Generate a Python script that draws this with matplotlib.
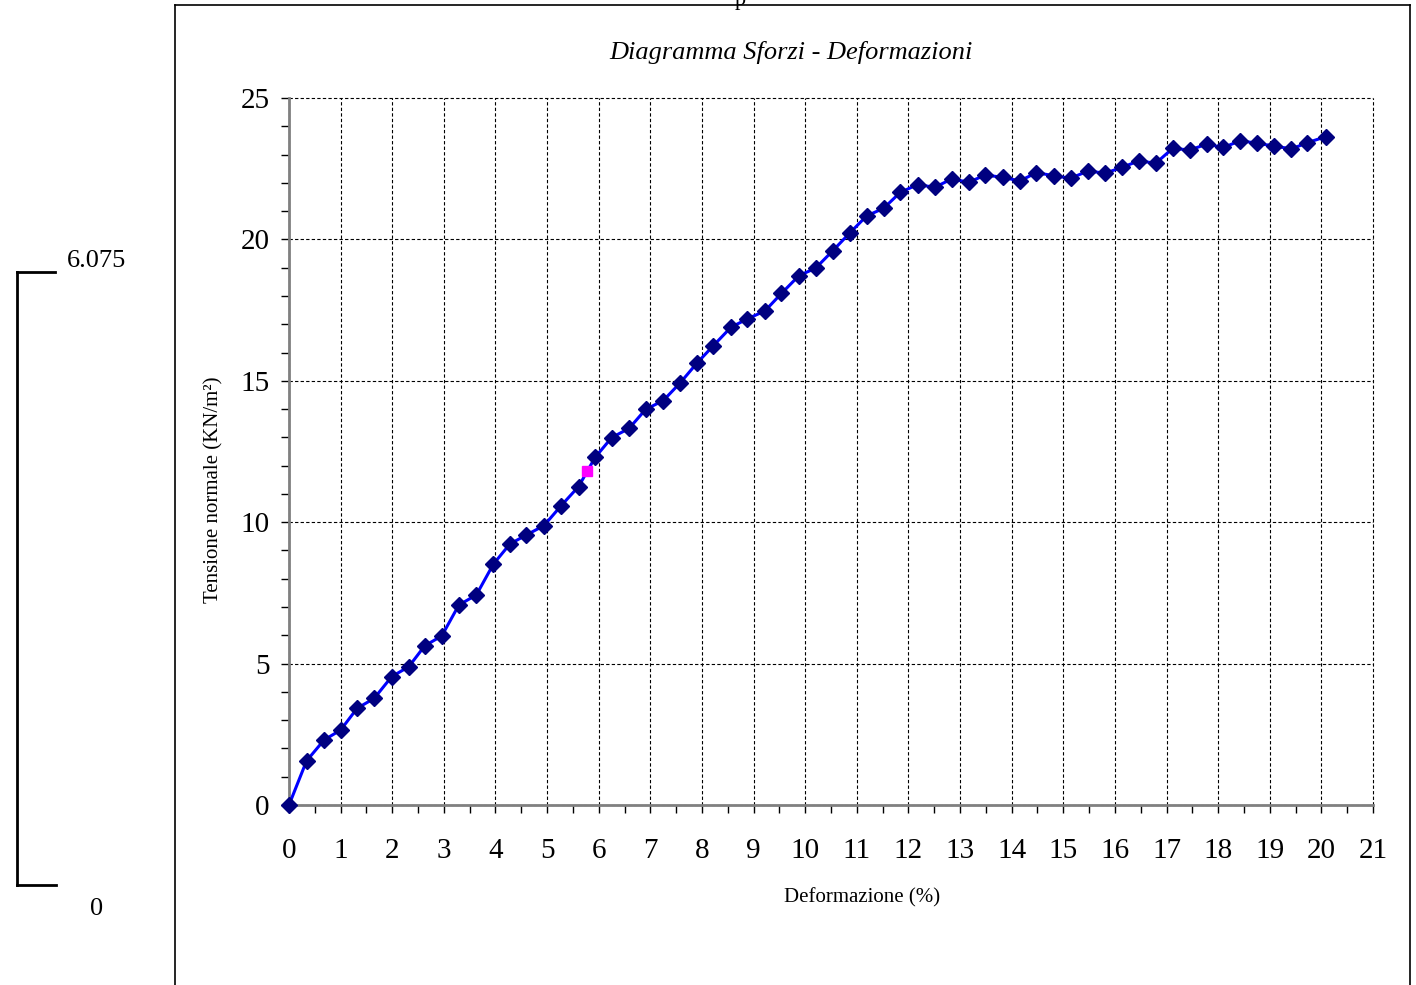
import matplotlib
matplotlib.use("Agg")
import matplotlib.pyplot as plt
from matplotlib.lines import Line2D
from matplotlib.ticker import MultipleLocator

# strain (%) and normal stress (KN/m2)
deformazione = [0.00, 0.34, 0.68, 1.00, 1.32, 1.65, 1.99, 2.32, 2.63, 2.96,
                3.29, 3.63, 3.96, 4.28, 4.60, 4.94, 5.27, 5.61, 5.93, 6.25,
                6.59, 6.91, 7.25, 7.58, 7.90, 8.22, 8.56, 8.88, 9.22, 9.54,
                9.88, 10.20, 10.53, 10.86, 11.19, 11.52, 11.84, 12.18, 12.51, 12.84,
                13.17, 13.49, 13.83, 14.16, 14.48, 14.82, 15.14, 15.48, 15.81, 16.14,
                16.47, 16.79, 17.12, 17.45, 17.78, 18.10, 18.43, 18.75, 19.09, 19.42,
                19.73, 20.08]
tensione = [0.00, 1.56, 2.30, 2.65, 3.42, 3.77, 4.54, 4.89, 5.63, 5.98,
            7.07, 7.43, 8.52, 9.23, 9.55, 9.88, 10.58, 11.26, 12.29, 12.99,
            13.32, 13.99, 14.30, 14.93, 15.62, 16.24, 16.89, 17.19, 17.47, 18.09,
            18.72, 18.98, 19.59, 20.22, 20.83, 21.10, 21.66, 21.94, 21.84, 22.14,
            22.02, 22.28, 22.19, 22.07, 22.36, 22.25, 22.16, 22.42, 22.34, 22.55,
            22.78, 22.69, 23.22, 23.16, 23.37, 23.25, 23.49, 23.40, 23.30, 23.20,
            23.42, 23.63]

# highlighted point (magenta square)
picco_x = [5.77]
picco_y = [11.82]

x_ticks = list(range(0, 22))
y_ticks = [0, 5, 10, 15, 20, 25]
scala_labels = ["6.075", "0"]

plt.rcParams["font.family"] = ["Liberation Serif", "DejaVu Serif"]

fig = plt.figure(figsize=(14.16, 9.85), dpi=100)
ax = fig.add_axes([289 / 1416, 1 - 805 / 985, (1373 - 289) / 1416, (805 - 98) / 985])

ax.plot(deformazione, tensione, color="#0000FF", lw=2.2, zorder=3,
        marker="D", ms=8.5, mfc="#000080", mec="#000080", clip_on=False)
ax.plot(picco_x, picco_y, ls="none", marker="s", ms=7, mfc="#FF00FF",
        mec="#FF00FF", zorder=4)

ax.set_xlim(0, 21)
ax.set_ylim(0, 25)
ax.set_xticks(x_ticks)
ax.set_yticks(y_ticks)
ax.xaxis.set_minor_locator(MultipleLocator(0.5))
ax.yaxis.set_minor_locator(MultipleLocator(1))
ax.tick_params(which="both", direction="out", length=6, width=1, color="black")
ax.tick_params(axis="x", which="major", labelsize=21, pad=18)
ax.tick_params(axis="y", which="major", labelsize=21, pad=8)

ax.grid(True, which="major", color="black", ls=(0, (3, 2)), lw=0.8)
for gl in ax.get_xgridlines() + ax.get_ygridlines():
    gl.set_clip_on(False)
for s in ["top", "right"]:
    ax.spines[s].set_visible(False)
for s in ["left", "bottom"]:
    ax.spines[s].set_color("#808080")
    ax.spines[s].set_linewidth(2)

fig.text(791 / 1416, 1 - 53 / 985, "Diagramma Sforzi - Deformazioni",
         ha="center", va="center", fontsize=19, style="italic")
fig.text(862 / 1416, 1 - 898 / 985, "Deformazione (%)",
         ha="center", va="center", fontsize=15)
fig.text(214 / 1416, 1 - 490 / 985, "Tensione normale (KN/m²)",
         ha="center", va="center", fontsize=15, rotation=90)

# cut-off text at the very top of the page
fig.text(740 / 1416, 1 - 0 / 985, "p", ha="center", va="center", fontsize=16)

# outer frame
W, H = 1416, 985
frame = [((175, 175), (5, 985)), ((175, 1410), (5, 5)), ((1410, 1410), (5, 985))]
for xs, ys in frame:
    fig.add_artist(Line2D([x / W for x in xs], [1 - y / H for y in ys],
                          color="black", lw=1.2))

# scale bar on the left
bar = [((17, 17), (272, 885)), ((17, 55), (272, 272)), ((17, 56), (885, 885))]
for xs, ys in bar:
    fig.add_artist(Line2D([x / W for x in xs], [1 - y / H for y in ys],
                          color="black", lw=2))
fig.text(97 / W, 1 - 261 / H, scala_labels[0], ha="center", va="center", fontsize=19)
fig.text(97 / W, 1 - 909 / H, scala_labels[1], ha="center", va="center", fontsize=19)

fig.savefig("out.png", dpi=100)
